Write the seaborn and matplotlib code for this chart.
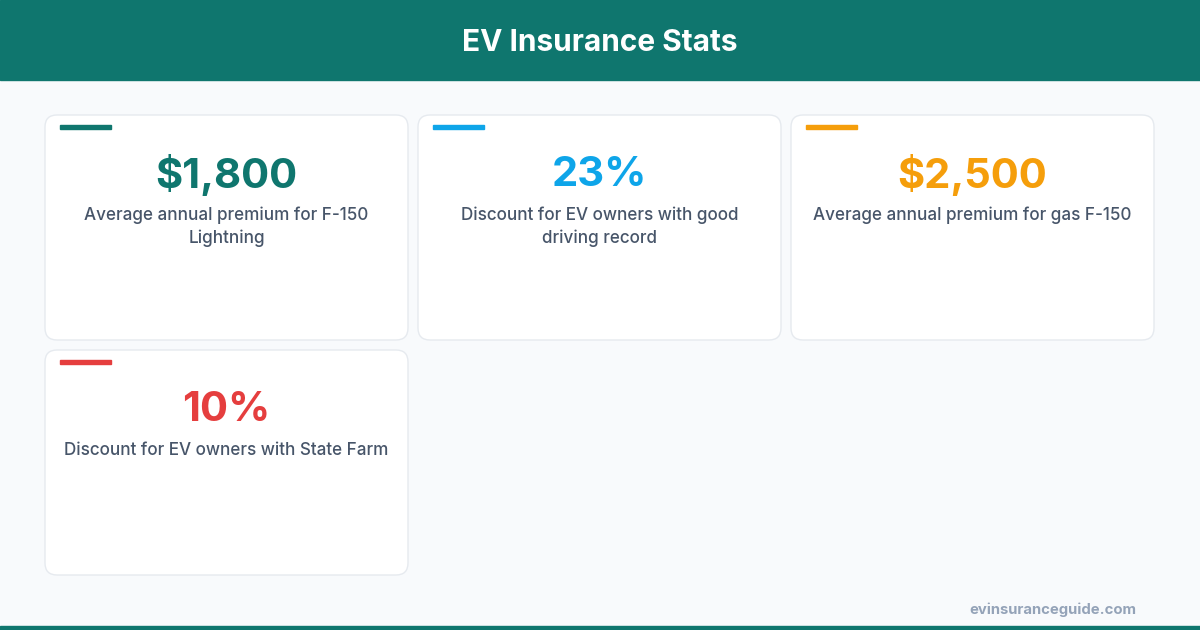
import matplotlib
matplotlib.use("Agg")
import matplotlib.pyplot as plt
from matplotlib.patches import FancyBboxPatch, Rectangle
import seaborn as sns

sns.set_theme(style="white")
plt.rcParams['font.family'] = ['Inter', 'DejaVu Sans']

# data
titulo = "EV Insurance Stats"
valores = ["$1,800", "23%", "$2,500", "10%"]
descricoes = [
    "Average annual premium for F-150\nLightning",
    "Discount for EV owners with good\ndriving record",
    "Average annual premium for gas F-150",
    "Discount for EV owners with State Farm",
]
cores = ["#0f766e", "#0ea5e9", "#f59e0b", "#e53e3e"]
fonte = "evinsuranceguide.com"

W, H = 1200, 630
fig = plt.figure(figsize=(12, 6.3), dpi=100)
fig.patch.set_facecolor("#f8fafc")
ax = fig.add_axes([0, 0, 1, 1])
ax.set_xlim(0, W)
ax.set_ylim(H, 0)
ax.axis("off")

# cabeçalho
ax.add_patch(Rectangle((0, 0), W, 80, color="#0f766e", zorder=1))
ax.text(W / 2, 43, titulo, color="white", fontsize=21.5, fontweight="bold",
        ha="center", va="center", zorder=2)

# cards em grade de 3 colunas
card_w, card_h = 363, 225
x0, y0, gap = 45, 115, 10
for i, (val, desc, cor) in enumerate(zip(valores, descricoes, cores)):
    col, row = i % 3, i // 3
    x = x0 + col * (card_w + gap)
    y = y0 + row * (card_h + gap)
    ax.add_patch(FancyBboxPatch((x, y), card_w, card_h,
                                boxstyle="round,pad=0,rounding_size=12",
                                facecolor="white", edgecolor="#e6eaef",
                                linewidth=1, zorder=2))
    ax.add_patch(Rectangle((x + 15, y + 10), 51, 4, color=cor, zorder=3))
    ax.text(x + card_w / 2, y + 60, val, color=cor, fontsize=30,
            fontweight="bold", ha="center", va="center", zorder=3)
    ax.text(x + card_w / 2, y + 92, desc, color="#475569", fontsize=12.3,
            fontweight="medium", ha="center", va="top", linespacing=1.38,
            zorder=3)

# rodapé
ax.text(1136, 610, fonte, color="#94a3b8", fontsize=10.7, fontweight="bold",
        ha="right", va="center")
ax.add_patch(Rectangle((0, 626), W, 4, color="#0f766e", zorder=1))

plt.savefig("out.png", dpi=100, facecolor=fig.get_facecolor())
plt.close()
